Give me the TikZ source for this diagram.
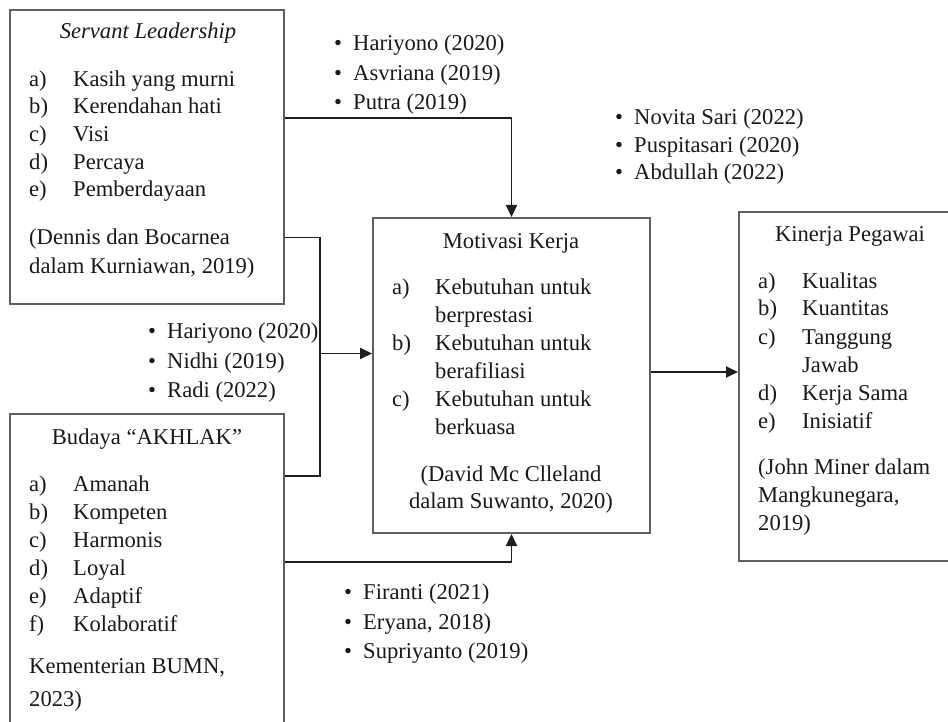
\documentclass[tikz,border=0pt]{standalone}
\usepackage{fontspec}
\setmainfont{Liberation Serif}
\usetikzlibrary{arrows.meta}
\definecolor{boxgray}{RGB}{95,95,95}
\definecolor{linecol}{RGB}{30,30,30}
\definecolor{txtcol}{RGB}{25,25,25}
\begin{document}
\begin{tikzpicture}[x=1pt,y=-1pt,
  every node/.style={text=txtcol},
  box/.style={draw=boxgray, line width=2pt, inner sep=0pt},
  conn/.style={draw=linecol, line width=1.8pt},
  arr/.style={conn, -{Triangle[length=12pt,width=11pt]}},
  txt/.style={anchor=base west, inner sep=0pt, font=\fontsize{22.6}{27.5}\selectfont},
  ctxt/.style={anchor=base, inner sep=0pt, font=\fontsize{22.6}{27.5}\selectfont},
  lbl/.style={txt},
  bul/.style={txt}]
\useasboundingbox (0,0) rectangle (948,722);

% ---------- boxes ----------
\node[box, minimum width=274pt, minimum height=294pt] (sl) at (147,157) {};
\node[box, minimum width=274pt, minimum height=346pt] (bk) at (147,587) {};
\node[box, minimum width=277pt, minimum height=315pt] (mk) at (511.5,375.5) {};
\node[box, minimum width=261pt, minimum height=349pt] (kp) at (869.5,386.5) {};

% ---------- Servant Leadership ----------
\node[ctxt] (slt) at (148,39) {\itshape Servant Leadership};
\node[lbl] (sla) at (29,86.5) {a)};  \node[txt] (slat) at (73,86.5) {Kasih yang murni};
\node[lbl] (slb) at (29,114) {b)};   \node[txt] (slbt) at (73,114) {Kerendahan hati};
\node[lbl] (slc) at (29,142) {c)};   \node[txt] (slct) at (73,142) {Visi};
\node[lbl] (sld) at (29,169.5) {d)}; \node[txt] (sldt) at (73,169.5) {Percaya};
\node[lbl] (sle) at (29,197) {e)};   \node[txt] (slet) at (73,197) {Pemberdayaan};
\node[txt] (slr1) at (29,245) {(Dennis dan Bocarnea};
\node[txt] (slr2) at (29,273) {dalam Kurniawan, 2019)};

% ---------- Budaya AKHLAK ----------
\node[ctxt] (bkt) at (147,444) {Budaya “AKHLAK”};
\node[lbl] (bka) at (29,491) {a)}; \node[txt] (bkat) at (73,491) {Amanah};
\node[lbl] (bkb) at (29,519) {b)}; \node[txt] (bkbt) at (73,519) {Kompeten};
\node[lbl] (bkc) at (29,547) {c)}; \node[txt] (bkct) at (73,547) {Harmonis};
\node[lbl] (bkd) at (29,575) {d)}; \node[txt] (bkdt) at (73,575) {Loyal};
\node[lbl] (bke) at (29,603) {e)}; \node[txt] (bket) at (73,603) {Adaptif};
\node[lbl] (bkf) at (29,631) {f)}; \node[txt] (bkft) at (73,631) {Kolaboratif};
\node[txt] (bkr1) at (29,673) {Kementerian BUMN,};
\node[txt] (bkr2) at (29,706) {2023)};

% ---------- Motivasi Kerja ----------
\node[ctxt] (mkt) at (511,248) {Motivasi Kerja};
\node[lbl] (mka) at (392,294.5) {a)}; \node[txt] (mkat) at (435,294.5) {Kebutuhan untuk};
\node[txt] (mkat2) at (435,322.5) {berprestasi};
\node[lbl] (mkb) at (392,350.5) {b)}; \node[txt] (mkbt) at (435,350.5) {Kebutuhan untuk};
\node[txt] (mkbt2) at (435,378.5) {berafiliasi};
\node[lbl] (mkc) at (392,406.5) {c)}; \node[txt] (mkct) at (435,406.5) {Kebutuhan untuk};
\node[txt] (mkct2) at (435,434.5) {berkuasa};
\node[ctxt] (mkr1) at (511,481) {(David Mc Clleland};
\node[ctxt] (mkr2) at (511,508.5) {dalam Suwanto, 2020)};

% ---------- Kinerja Pegawai ----------
\node[ctxt] (kpt) at (850,242) {Kinerja Pegawai};
\node[lbl] (kpa) at (758,288) {a)}; \node[txt] (kpat) at (802,288) {Kualitas};
\node[lbl] (kpb) at (758,316) {b)}; \node[txt] (kpbt) at (802,316) {Kuantitas};
\node[lbl] (kpc) at (758,344) {c)}; \node[txt] (kpct) at (802,344) {Tanggung};
\node[txt] (kpct2) at (802,372.5) {Jawab};
\node[lbl] (kpd) at (758,400.5) {d)}; \node[txt] (kpdt) at (802,400.5) {Kerja Sama};
\node[lbl] (kpe) at (758,428) {e)}; \node[txt] (kpet) at (802,428) {Inisiatif};
\node[txt] (kpr1) at (758,474) {(John Miner dalam};
\node[txt] (kpr2) at (758,502.5) {Mangkunegara,};
\node[txt] (kpr3) at (758,530.5) {2019)};

% ---------- citation lists ----------
\node[bul] (c1a) at (334,51) {\makebox[19pt][l]{\textbullet}Hariyono (2020)};
\node[bul] (c1b) at (334,80.5) {\makebox[19pt][l]{\textbullet}Asvriana (2019)};
\node[bul] (c1c) at (334,110) {\makebox[19pt][l]{\textbullet}Putra (2019)};

\node[bul] (c2a) at (615,125) {\makebox[19pt][l]{\textbullet}Novita Sari (2022)};
\node[bul] (c2b) at (615,153) {\makebox[19pt][l]{\textbullet}Puspitasari (2020)};
\node[bul] (c2c) at (615,180) {\makebox[19pt][l]{\textbullet}Abdullah (2022)};

\node[bul] (c3a) at (148,338.5) {\makebox[19pt][l]{\textbullet}Hariyono (2020)};
\node[bul] (c3b) at (148,368) {\makebox[19pt][l]{\textbullet}Nidhi (2019)};
\node[bul] (c3c) at (148,397) {\makebox[19pt][l]{\textbullet}Radi (2022)};

\node[bul] (c4a) at (344,599.5) {\makebox[19pt][l]{\textbullet}Firanti (2021)};
\node[bul] (c4b) at (344,629) {\makebox[19pt][l]{\textbullet}Eryana, 2018)};
\node[bul] (c4c) at (344,658.5) {\makebox[19pt][l]{\textbullet}Supriyanto (2019)};

% ---------- connectors ----------
\coordinate (j) at (320,353.5);
\draw[arr] (sl.east |- 0,118) -| (mk.north);
\draw[conn] (sl.east |- 0,237.5) -| (j) |- (bk.east |- 0,476);
\draw[arr] (j) -- (mk.west |- j);
\draw[arr] (bk.east |- 0,562) -| (mk.south);
\draw[arr] (mk.east |- 0,372) -- (kp.west |- 0,372);
\end{tikzpicture}
\end{document}
